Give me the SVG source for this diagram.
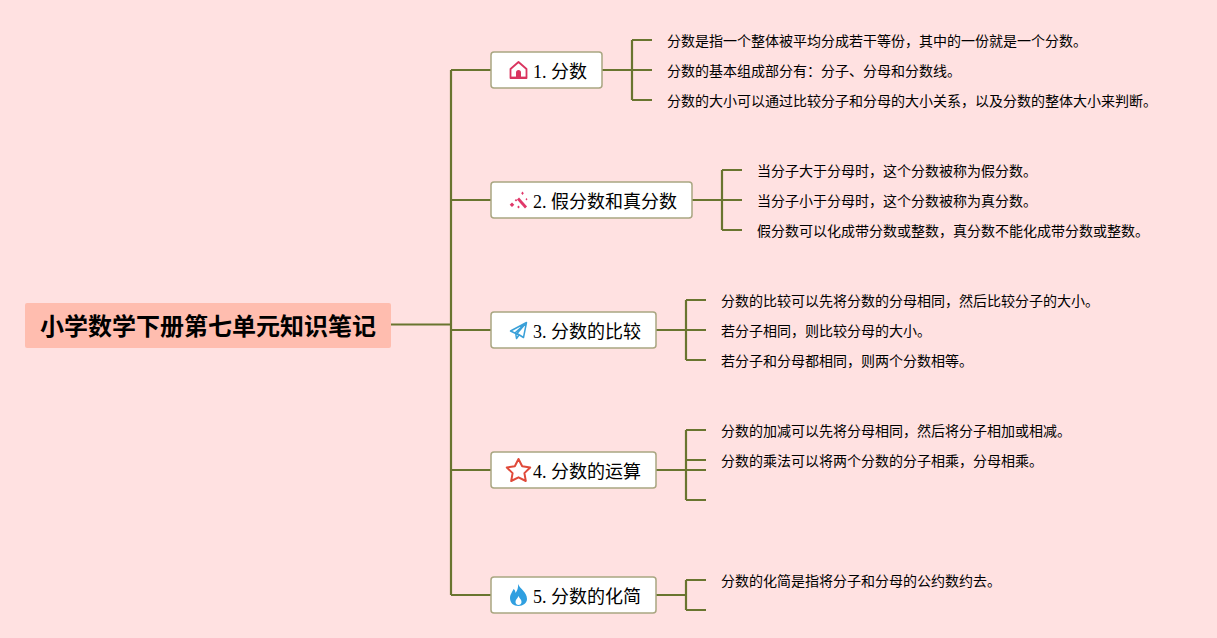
<svg xmlns="http://www.w3.org/2000/svg" width="1217" height="638" viewBox="0 0 1217 638">
<style>
text{font-family:"Liberation Serif","Noto Sans CJK SC",serif;fill:#000}
.leaf{font-size:14px}
.topic{font-size:18px}
.box{fill:#fff;stroke:#a9a681;stroke-width:1.5}
.c{fill:none;stroke:#69752f;stroke-width:2.200}
</style>
<rect width="1217" height="638" fill="#ffe1e1"/>
<g id="connectors">
<path class="c" d="M391 324.500H451M451 70V595M451 70H491M451 200H491M451 330H491M451 470H491M451 595H491"/>
<path class="c" d="M602 70H652M632 40H652M632 100H652M632 40V100"/>
<path class="c" d="M692 200H742M722 170H742M722 230H742M722 170V230"/>
<path class="c" d="M656 330H706M686 300H706M686 360H706M686 300V360"/>
<path class="c" d="M656 470H706M686 430H706M686 460H706M686 500H706M686 430V500"/>
<path class="c" d="M656 595H686M686 580H706M686 610H706M686 580V610"/>
</g>
<g id="root">
<rect x="25" y="303" width="366" height="45" rx="2" fill="#ffbdaf"/>
<text x="208" y="335" text-anchor="middle" font-size="24" font-weight="700">小学数学下册第七单元知识笔记</text>
</g>
<g id="node1">
<rect class="box" x="491" y="52" width="111" height="36" rx="3"/>
<path d="M510.500 78V69L518.500 62L526.500 69V78Z" fill="none" stroke="#d9345f" stroke-width="1.800" stroke-linejoin="round"/>
<path d="M516 78V72.500a2.500 2.500 0 0 1 5 0V78Z" fill="#d9345f"/>
<path d="M510 77.500H527" stroke="#d9345f" stroke-width="1.800"/>
<text class="topic" x="533" y="77.500">1. 分数</text>
</g>
<g id="node2">
<rect class="box" x="491" y="182" width="201" height="36" rx="3"/>
<path d="M518 198.500L526 207.500" stroke="#e0386a" stroke-width="2.800"/>
<path d="M522.500 191.500l1.300 1.700-1.300 1.700-1.300-1.700zM526.500 198l1 1.300-1 1.300-1-1.300zM512 202.500l2.300 2.300-2.300 2.300-2.300-2.300zM516 199l1.300 1.300-1.300 1.300-1.300-1.300zM518.500 205.500l1.300 1.500-1.300 1.500-1.300-1.500z" fill="#e0386a"/>
<text class="topic" x="533" y="207.500">2. 假分数和真分数</text>
</g>
<g id="node3">
<rect class="box" x="491" y="312" width="165" height="36" rx="3"/>
<path d="M510.500 331L526.500 322.500L523.500 337.500L517 333.500L526.500 322.500L515.500 332.500L516.500 338.500L519 335Z" fill="none" stroke="#3aa0d8" stroke-width="1.500" stroke-linejoin="round"/>
<text class="topic" x="533" y="337.500">3. 分数的比较</text>
</g>
<g id="node4">
<rect class="box" x="491" y="452" width="165" height="36" rx="3"/>
<path d="M518.500 459L522.200 466.300L530.200 467.500L524.400 473.100L525.800 481L518.500 477.300L511.200 481L512.600 473.100L506.800 467.500L514.800 466.300Z" fill="none" stroke="#e04a3a" stroke-width="2" stroke-linejoin="round"/>
<text class="topic" x="533" y="477.500">4. 分数的运算</text>
</g>
<g id="node5">
<rect class="box" x="491" y="577" width="165" height="36" rx="3"/>
<path d="M518 584C520 589 527 592 527 599C527 603 523 606 518.500 606C513.500 606 510 603 510 598C510 594 512.500 592 513.500 589C515 590 515.500 591.500 515.500 593C517 591 518.500 588 518 584ZM518.500 596C517.500 598.500 515.500 599.500 515.500 602C515.500 603.800 517 605 518.500 605C520 605 521.500 603.800 521.500 602C521.500 599.500 519.500 598.500 518.500 596Z" fill="#2f9fe0" fill-rule="evenodd"/>
<text class="topic" x="533" y="602.500">5. 分数的化简</text>
</g>
<g id="leaves1" class="leaf">
<text x="667" y="46">分数是指一个整体被平均分成若干等份，其中的一份就是一个分数。</text>
<text x="667" y="76">分数的基本组成部分有：分子、分母和分数线。</text>
<text x="667" y="106">分数的大小可以通过比较分子和分母的大小关系，以及分数的整体大小来判断。</text>
</g>
<g id="leaves2" class="leaf">
<text x="757" y="176">当分子大于分母时，这个分数被称为假分数。</text>
<text x="757" y="206">当分子小于分母时，这个分数被称为真分数。</text>
<text x="757" y="236">假分数可以化成带分数或整数，真分数不能化成带分数或整数。</text>
</g>
<g id="leaves3" class="leaf">
<text x="721" y="306">分数的比较可以先将分数的分母相同，然后比较分子的大小。</text>
<text x="721" y="336">若分子相同，则比较分母的大小。</text>
<text x="721" y="366">若分子和分母都相同，则两个分数相等。</text>
</g>
<g id="leaves4" class="leaf">
<text x="721" y="436">分数的加减可以先将分母相同，然后将分子相加或相减。</text>
<text x="721" y="466">分数的乘法可以将两个分数的分子相乘，分母相乘。</text>
</g>
<g id="leaves5" class="leaf">
<text x="721" y="586">分数的化简是指将分子和分母的公约数约去。</text>
</g>
</svg>
